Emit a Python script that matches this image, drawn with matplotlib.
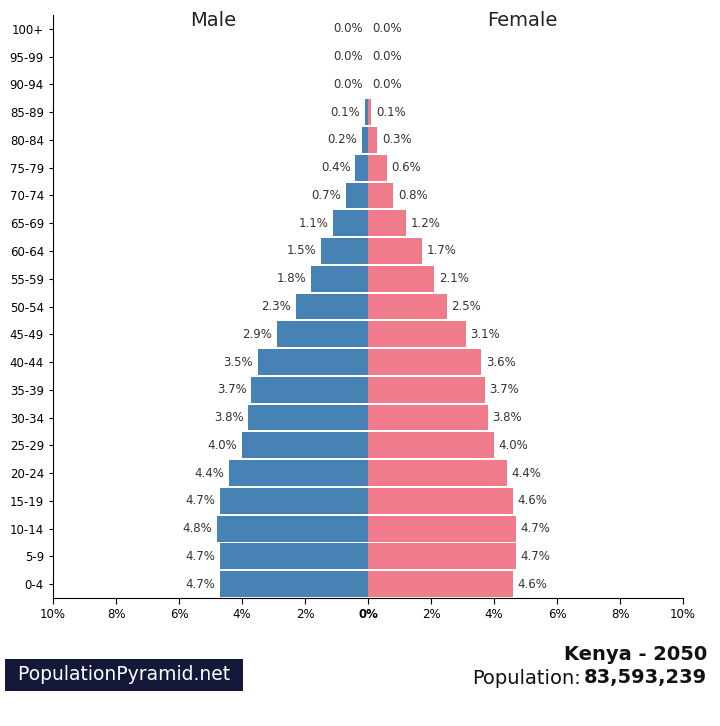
import matplotlib
matplotlib.use("Agg")
import matplotlib.pyplot as plt

ages = ["0-4","5-9","10-14","15-19","20-24","25-29","30-34","35-39","40-44","45-49",
        "50-54","55-59","60-64","65-69","70-74","75-79","80-84","85-89","90-94","95-99","100+"]
male = [4.7,4.7,4.8,4.7,4.4,4.0,3.8,3.7,3.5,2.9,2.3,1.8,1.5,1.1,0.7,0.4,0.2,0.1,0.0,0.0,0.0]
female = [4.6,4.7,4.7,4.6,4.4,4.0,3.8,3.7,3.6,3.1,2.5,2.1,1.7,1.2,0.8,0.6,0.3,0.1,0.0,0.0,0.0]
ticks = [-10,-8,-6,-4,-2,0,2,4,6,8,10]

fig = plt.figure(figsize=(7.2,7.26), dpi=100)
ax = fig.add_axes([53/720, 1-598/726, 630/720, (598-15)/726])
y = list(range(len(ages)))
mc, fc = "#4682B4", "#EF7B8B"
ax.barh(y, [-m for m in male], height=0.93, color=mc)
ax.barh(y, female, height=0.93, color=fc)
for i in y:
    ax.text(-male[i]-0.15, i, f"{male[i]:.1f}%", ha="right", va="center", fontsize=8.5, color="#333333")
    ax.text(female[i]+0.15, i, f"{female[i]:.1f}%", ha="left", va="center", fontsize=8.5, color="#333333")
ax.set_xlim(-10,10)
ax.set_ylim(-0.5,20.5)
ax.set_yticks(y)
ax.set_yticklabels(ages, fontsize=8.5)
ax.set_xticks(ticks)
ax.set_xticklabels([f"{abs(t)}%" for t in ticks], fontsize=8.5)
for lab in ax.get_xticklabels():
    if lab.get_text() == "0%":
        lab.set_fontweight("bold")
ax.spines["top"].set_visible(False)
ax.spines["right"].set_visible(False)
ax.tick_params(axis="y", length=3)
ax.tick_params(axis="x", length=4)
ax.text(-4.9, 20.3, "Male", ha="center", va="center", fontsize=14, color="#222222")
ax.text(4.9, 20.3, "Female", ha="center", va="center", fontsize=14, color="#222222")

fig.text(12/720, 1-675/726, " PopulationPyramid.net ", ha="left", va="center", fontsize=13.5,
         color="white", bbox=dict(boxstyle="square,pad=0.35", fc="#14193a", ec="none"))
fig.text(707/720, 1-655/726, "Kenya - 2050", ha="right", va="center", fontsize=14, fontweight="bold", color="#111111")
t = fig.text(707/720, 1-678/726, "83,593,239", ha="right", va="center", fontsize=14, fontweight="bold", color="#111111")
fig.canvas.draw()
bb = t.get_window_extent()
fig.text(bb.x0/720 - 0.004, 1-678/726, "Population:", ha="right", va="center", fontsize=14, color="#111111")
fig.savefig("out.png", dpi=100)
